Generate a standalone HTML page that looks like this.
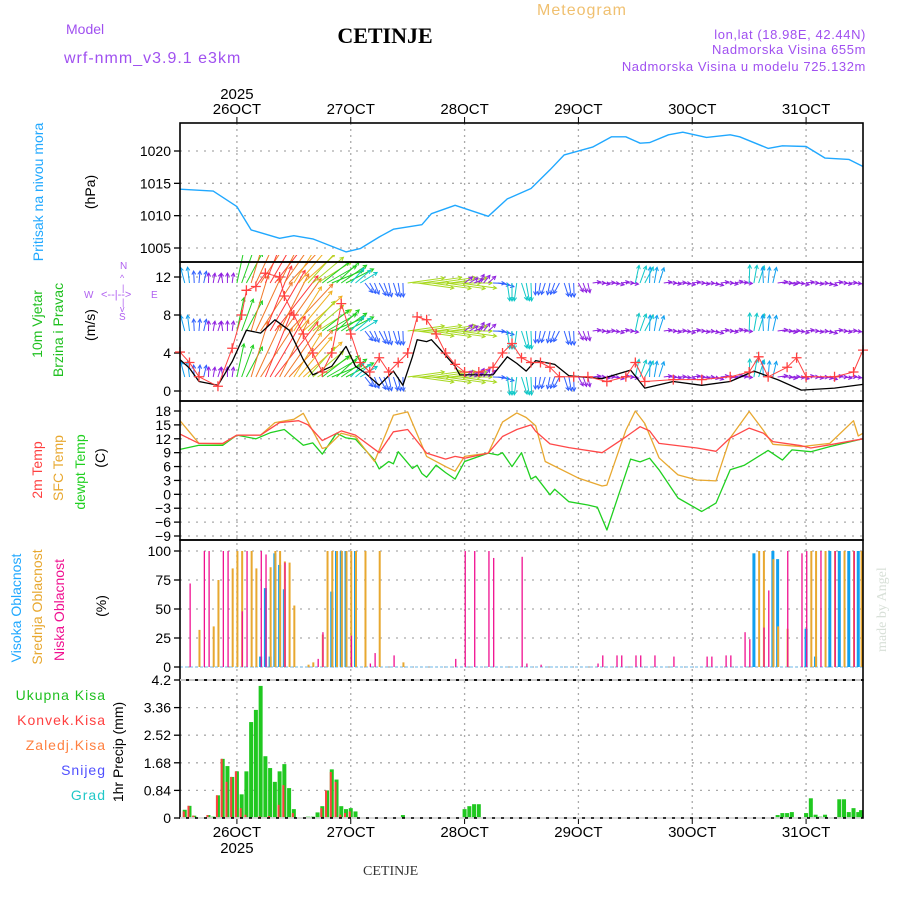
<!DOCTYPE html>
<html><head><meta charset="utf-8"><style>
html,body{margin:0;padding:0;background:#fff;}
svg{display:block;font-family:"Liberation Sans",sans-serif;}
</style></head><body>
<svg id="chart" width="900" height="900" viewBox="0 0 900 900" xmlns="http://www.w3.org/2000/svg">
<g>
<text x="66" y="34" font-size="14" fill="#a050f0">Model</text>
<text x="64" y="63" font-size="16" fill="#a050f0" letter-spacing="1">wrf-nmm_v3.9.1 e3km</text>
<text x="385" y="43" font-size="22" font-weight="bold" font-family="Liberation Serif,serif" text-anchor="middle" fill="#000">CETINJE</text>
<text x="582" y="15" font-size="16" fill="#f0c070" text-anchor="middle" letter-spacing="1">Meteogram</text>
<text x="866" y="39" font-size="13" fill="#a050f0" text-anchor="end" letter-spacing="0.6">lon,lat (18.98E, 42.44N)</text>
<text x="866" y="54" font-size="13" fill="#a050f0" text-anchor="end" letter-spacing="0.6">Nadmorska Visina 655m</text>
<text x="866" y="71" font-size="13" fill="#a050f0" text-anchor="end" letter-spacing="0.6">Nadmorska Visina u modelu 725.132m</text>
<text x="363" y="875" font-size="14" font-family="Liberation Serif,serif" fill="#333">CETINJE</text>
<text transform="translate(886,652) rotate(-90)" font-size="14" font-family="Liberation Serif,serif" fill="#d8e0d8">made by Angel</text>
</g>
<g font-size="14">
<text transform="translate(43,192) rotate(-90)" text-anchor="middle" fill="#20a8ff">Pritisak na nivou mora</text>
<text transform="translate(95,192) rotate(-90)" text-anchor="middle" fill="#000">(hPa)</text>
<text transform="translate(42,324) rotate(-90)" text-anchor="middle" fill="#20c020">10m Vjetar</text>
<text transform="translate(63,330) rotate(-90)" text-anchor="middle" fill="#20c020">Brzina i Pravac</text>
<text transform="translate(95,325) rotate(-90)" text-anchor="middle" fill="#000">(m/s)</text>
<g fill="#b060f0" font-size="10">
<text x="120" y="269">N</text><text x="84" y="298">W</text><text x="151" y="298">E</text><text x="119" y="320">S</text>
<text x="101" y="298" font-size="11">&lt;--|--&gt;</text>
<text x="120" y="281" font-size="9">^</text><text x="122" y="291" font-size="9">|</text><text x="122" y="305" font-size="9">|</text><text x="120" y="312" font-size="9">v</text>
</g>
<text transform="translate(42,470) rotate(-90)" text-anchor="middle" fill="#ff4040">2m Temp</text>
<text transform="translate(63,468) rotate(-90)" text-anchor="middle" fill="#e8a830">SFC Temp</text>
<text transform="translate(85,472) rotate(-90)" text-anchor="middle" fill="#20d020">dewpt Temp</text>
<text transform="translate(105,458) rotate(-90)" text-anchor="middle" fill="#000">(C)</text>
<text transform="translate(21,608) rotate(-90)" text-anchor="middle" fill="#20a8ff">Visoka Oblacnost</text>
<text transform="translate(42,607) rotate(-90)" text-anchor="middle" fill="#e8a830">Srednja Oblacnost</text>
<text transform="translate(64,610) rotate(-90)" text-anchor="middle" fill="#f01090">Niska Oblacnost</text>
<text transform="translate(106,606) rotate(-90)" text-anchor="middle" fill="#000">(%)</text>
<text x="106" y="700" text-anchor="end" fill="#20c020" letter-spacing="1">Ukupna Kisa</text>
<text x="106" y="725" text-anchor="end" fill="#ff4040" letter-spacing="1">Konvek.Kisa</text>
<text x="106" y="750" text-anchor="end" fill="#ff8040" letter-spacing="1">Zaledj.Kisa</text>
<text x="106" y="775" text-anchor="end" fill="#5050ff" letter-spacing="1">Snijeg</text>
<text x="106" y="800" text-anchor="end" fill="#20c8c8" letter-spacing="1">Grad</text>
<text transform="translate(123,752) rotate(-90)" text-anchor="middle" fill="#000">1hr Precip (mm)</text>
</g>
<g id="plot"></g>
</svg>
<script>
// ---- data (t = hours since 25 OCT 12:00) ----
const dayLabels = ["26OCT","27OCT","28OCT","29OCT","30OCT","31OCT"];
const dayHours = [12,36,60,84,108,132];
const presHours = [0,7,12,15,21,24,28,35,38,42,45,51,53,58,65,69,74,78,81,87,91,94,97,99,103,106,111,116,118,124,127,132,136,141,144];
const presVals = [1014.1,1013.8,1011.4,1007.8,1006.5,1006.9,1006.4,1004.4,1004.9,1006.7,1007.9,1008.6,1010.3,1011.6,1009.9,1012.6,1014.2,1017.1,1019.4,1020.6,1022.2,1022.2,1021.2,1021.3,1022.5,1022.9,1022.1,1022.5,1022.2,1020.4,1020.8,1020.7,1018.9,1018.7,1017.6];
const presTicks = [1005,1010,1015,1020];
const t2Hours = [0,4,9,12,17,21,25,27,30,34,37,42,45,48,52,56,58,60,65,68,71,74,75,78,82,89,94,97,99,101,109,113,116,120,123,125,131,133,137,144];
const t2Vals = [13.0,11.0,11.0,12.8,12.8,15.5,15.9,15.0,11.6,13.7,12.8,9.0,13.5,14.0,8.9,7.6,8.2,7.8,8.9,12.5,14.0,15.0,13.6,10.9,10.1,9.0,12.4,14.6,13.7,11.0,10.0,9.3,12.2,14.3,13.2,11.4,10.5,10.0,10.7,12.0];
const sfcHours = [0,4,9,12,17,20,24,26,30,31,34,37,41,45,48,52,56,58,60,65,68,71,73,75,77,84,89,90,94,96,98,101,105,109,113,116,120,123,125,131,137,142,143,144];
const sfcVals = [15.9,11.0,10.9,12.8,12.8,15.5,16.2,17.5,9.9,10.2,13.2,12.4,7.1,17.1,17.8,8.2,6.0,5.0,8.2,8.9,15.6,17.6,16.6,14.8,7.1,3.5,1.8,2.0,13.8,18.0,15.3,7.9,4.2,3.1,2.9,12.2,17.9,13.8,10.8,10.3,11.0,15.9,12.6,13.2];
const dewHours = [0,4,9,12,16,19,22,26,28,30,33,35,37,41,42,44,45,46,49,50,51,52,54,56,58,60,65,67,68,70,72,74,75,78,79,82,86,88,90,95,97,99,101,105,110,113,116,119,124,127,129,133,137,144];
const dewVals = [9.7,10.6,10.6,12.8,12.0,13.3,14.0,10.6,11.1,8.7,13.2,12.2,11.9,7.4,5.5,7.1,6.6,9.2,5.6,6.3,4.5,3.7,6.3,4.7,3.3,7.1,8.9,8.5,9.0,6.0,9.0,3.3,3.9,-0.1,1.1,-1.6,-2.3,-2.8,-7.7,7.6,7.0,7.8,5.3,-0.8,-3.7,-1.9,5.3,6.3,9.5,7.4,9.6,9.2,10.3,12.0];
const tempTicks = [-9,-6,-3,0,3,6,9,12,15,18];
const windHours = [0,2,4,8,11,14,17,20,23,26,28,32,35,37,39,42,45,47,49,50,52,53,55,58,59,66,69,71,73,75,79,82,89,95,98,104,110,116,121,126,131,138,144];
const windVals = [3.3,2.4,1.0,0.6,3.1,6.4,6.1,7.5,6.4,3.3,1.7,2.6,4.7,2.6,1.9,0.6,2.1,0.6,3.6,5.4,5.2,5.4,4.3,2.6,1.7,1.7,3.6,2.9,2.1,3.2,2.8,1.6,1.3,2.2,0.3,1.0,0.6,1.0,2.1,1.2,0.1,0.3,0.7];
const gustHours = [0,2,4,8,11,13,14,16,18,21,22,24,26,28,30,32,34,36,38,40,42,44,46,48,50,52,54,56,58,60,63,66,68,70,72,74,76,78,80,83,86,90,94,96,98,104,110,116,120,122,124,128,130,132,138,142,144];
const gustVals = [4.1,3.0,1.5,0.5,4.5,8.0,10.6,11.0,12.4,12.0,10.0,8.0,6.0,4.0,2.0,4.0,9.2,6.0,3.0,2.0,3.5,2.0,3.0,4.0,7.8,7.5,6.0,4.0,2.8,2.0,2.0,2.5,4.0,5.0,3.5,3.0,3.0,2.5,1.5,1.5,1.5,1.0,1.5,3.0,1.0,1.2,1.2,1.5,2.0,3.6,1.5,2.5,3.5,1.5,1.5,2.0,4.3];
const windTicks = [0,4,8,12];
// 3-hourly wind arrows: direction the arrow points (deg clockwise from north) and speed
const arrowHours = [0,3,6,9,12,15,18,21,24,27,30,33,36,39,42,45,48,51,54,57,60,63,66,69,72,75,78,81,84,87,90,93,96,99,102,105,108,111,114,117,120,123,126,129,132,135,138,141];
const arrowDir = [345,5,10,0,20,25,30,35,40,50,60,55,50,150,160,170,90,90,90,90,60,40,100,180,170,190,200,170,160,90,95,90,20,10,90,95,90,100,90,85,10,5,90,95,90,100,90,95];
const arrowSpd = [3,2,1.5,1.5,5,9,11,10,8,6,5,4.5,4,2,2.5,2.5,5.5,6,6,5.5,1.5,1.5,2,3.5,3.5,2,2,2.5,1.5,1,1,1,3.5,3,1,1,1,1,1,1,3.5,3,1.5,1,1,1,1,1];
const cloudTicks = [0,25,50,75,100];
const lowHours = [2,5,6,9,10,13,14,17,18,22,29,30,36,40,41,45,58,60,62,65,66,72,73,76,88,89,92,93,96,97,100,104,111,112,115,116,119,120,123,124,128,131,132,135,138,142];
const lowVals = [72,100,100,100,100,48,100,100,97,90,7,30,27,3,12,10,7,100,100,100,94,95,3,2,3,10,10,10,10,10,10,9,9,9,10,10,30,24,34,66,100,98,100,100,100,100];
const midHours = [4,7,8,11,12,13,15,16,19,20,21,22,23,24,27,28,30,31,32,33,34,35,36,37,39,42,47,122,123,125,126,128,133,134,136,138,140,142,143.6];
const midVals = [32,35,75,85,100,100,100,85,86,100,100,91,90,53,2,4,28,100,100,100,100,100,100,100,100,100,4,100,100,93,35,33,100,100,100,100,100,100,100];
const highHours = [17,18,19,20,21,22,32,33,34,35,37,121,125,126,132,134,137,139,141,143];
const highVals = [9,68,9,98,88,67,65,100,100,100,100,98,100,93,33,9,100,100,100,100];
const precipTicks = [0,0.84,1.68,2.52,3.36,4.2];
const precipTickLabels = ["0","0.84","1.68","2.52","3.36","4.2"];
const rainHours = [1,2,3,6,7,8,9,10,11,12,13,14,15,16,17,18,19,20,21,22,23,24,27,28,29,30,31,32,33,34,35,36,37,47,60,61,62,63,126,127,128,129,132,133,134,135,136,139,140,141,142,143,143.6];
const rainVals = [0.25,0.37,0.07,0.09,0.04,0.69,1.8,1.58,1.25,1.42,0.72,1.42,2.92,3.29,4.02,1.88,1.52,1.1,1.42,1.64,0.91,0.27,0.04,0.04,0.17,0.36,0.84,1.48,1.17,0.36,0.27,0.3,0.2,0.09,0.27,0.36,0.42,0.42,0.09,0.15,0.15,0.18,0.15,0.6,0.1,0.04,0.1,0.57,0.57,0.18,0.3,0.18,0.24];
const convHours = [1,2,3,6,8,9,10,11,12,13,14,17,18,19,21,22,24,30,31,32,33,34,35,36];
const convVals = [0.2,0.37,0.07,0.09,0.69,1.8,1.1,1.25,1.42,0.3,0.1,0.05,0.03,0.06,0.4,1.0,0.15,0.3,0.84,1.4,1.1,0.1,0.15,0.2];

// ---- geometry ----
const L=180,R=863,T0=0,T1=144;
const X=t=>L+(t-T0)*(R-L)/(T1-T0);
const panels={pres:[123,262],wind:[262,401],temp:[401,540],cloud:[540,680],prec:[680,818]};
const Yp=v=>151+(1020-v)*(248-151)/15;
const Yw=v=>391-v*(391-277)/12;
const Yt=v=>411+(18-v)*(536-411)/27;
const Yc=v=>667-v*(667-551)/100;
const Yr=v=>818-v*(818-680)/4.2;
const NS="http://www.w3.org/2000/svg";
const plot=document.getElementById('plot');
function mk(tag,attrs,parent){const e=document.createElementNS(NS,tag);for(const k in attrs)e.setAttribute(k,attrs[k]);(parent||plot).appendChild(e);return e;}
function grp(name){const g=mk('g',{});return g;}

const defs=mk('defs',{});
const cp=mk('clipPath',{id:'cw'},defs);mk('rect',{x:L,y:255,width:R-L,height:146},cp);

// grids
const grid=grp('grid-lines');
for(const h of dayHours){mk('line',{x1:X(h),x2:X(h),y1:123,y2:818,stroke:'#aaa','stroke-width':1.3,'stroke-dasharray':'2,4'},grid);}
function hgrid(vals,fy){for(const v of vals){mk('line',{x1:L,x2:R,y1:fy(v),y2:fy(v),stroke:'#aaa','stroke-width':1.3,'stroke-dasharray':'2,6'},grid);}}
hgrid(presTicks,Yp);hgrid(windTicks,Yw);hgrid(tempTicks,Yt);hgrid(cloudTicks,Yc);hgrid(precipTicks.slice(1,5),Yr);

function yticks(name,vals,labels,fy){const g=grp(name);vals.forEach((v,i)=>{const y=fy(v);mk('line',{x1:174,x2:L,y1:y,y2:y,stroke:'#000','stroke-width':1.3},g);const t=mk('text',{x:171,y:y+5,'font-size':14,'text-anchor':'end',fill:'#000'},g);t.textContent=labels?labels[i]:String(v).replace('-','\u2212');});}
yticks('pressure-y-ticks',presTicks,null,Yp);
yticks('wind-y-ticks',windTicks,null,Yw);
yticks('temp-y-ticks',tempTicks,null,Yt);
yticks('cloud-y-ticks',cloudTicks,null,Yc);
yticks('precip-y-ticks',precipTicks,precipTickLabels,Yr);
const xt=grp('x-axis-labels');
dayLabels.forEach((d,i)=>{const x=X(dayHours[i]);
 let t=mk('text',{x:x,y:114,'font-size':15,'text-anchor':'middle',fill:'#000'},xt);t.textContent=d;
 t=mk('text',{x:x,y:837,'font-size':15,'text-anchor':'middle',fill:'#000'},xt);t.textContent=d;
 mk('line',{x1:x,x2:x,y1:117,y2:123,stroke:'#000'},xt);mk('line',{x1:x,x2:x,y1:818,y2:824,stroke:'#000'},xt);});
let yt=mk('text',{x:X(12),y:99,'font-size':15,'text-anchor':'middle',fill:'#000'},xt);yt.textContent='2025';
yt=mk('text',{x:X(12),y:853,'font-size':15,'text-anchor':'middle',fill:'#000'},xt);yt.textContent='2025';

function line(name,hs,vs,fy,color,w){const pts=hs.map((h,i)=>X(h).toFixed(1)+','+fy(vs[i]).toFixed(1)).join(' ');const p=mk('polyline',{points:pts,fill:'none',stroke:color,'stroke-width':w||1.3,'stroke-linejoin':'round'});return p;}

line('pressure-line',presHours,presVals,Yp,'#20a8ff',1.4);

// wind arrows
const wg=grp('wind-arrows');wg.setAttribute('clip-path','url(#cw)');
function spdColor(s){if(s<1.8)return'#9020e0';if(s<2.7)return'#3060ff';if(s<3.3)return'#10a0f0';if(s<4.2)return'#10c8c8';if(s<5.2)return'#20d020';if(s<6.5)return'#a8d820';if(s<8.5)return'#f0b020';if(s<10.5)return'#f07828';return'#ff3838';}
const rows=[283,331,377];
arrowHours.forEach((h,i)=>{const s=arrowSpd[i];const col=spdColor(s);
 for(const ry of rows){for(let k=0;k<3;k++){
  const x0=X(h)+k*4.74;const a=(arrowDir[i]+(k-1)*8)*Math.PI/180;const len=4+s*(s>4?6:4);
  const x1=x0+Math.sin(a)*len,y1=ry-Math.cos(a)*len;
  const g=mk('g',{stroke:col,'stroke-width':1,fill:'none'},wg);
  
  
  mk('line',{x1:x0,y1:ry,x2:x1,y2:y1},g);
  const b1=a+Math.PI-0.5,b2=a+Math.PI+0.5;
  mk('polyline',{points:`${x1+Math.sin(b1)*4},${y1-Math.cos(b1)*4} ${x1},${y1} ${x1+Math.sin(b2)*4},${y1-Math.cos(b2)*4}`},g);
 }}});
line('wind-speed-line',windHours,windVals,Yw,'#000',1.3);
line('gust-line',gustHours,gustVals,Yw,'#ff4040',1);
const gm=grp('gust-markers');
gustHours.forEach((h,i)=>{const x=X(h),y=Yw(gustVals[i]);const p=mk('path',{d:`M${x-5},${y}H${x+5}M${x},${y-5}V${y+5}`,stroke:'#ff4040','stroke-width':1.3},gm);});

// temperatures
line('dewpoint-line',dewHours,dewVals,Yt,'#20d020',1.3);
line('sfc-temp-line',sfcHours,sfcVals,Yt,'#e8a830',1.3);
line('temp-2m-line',t2Hours,t2Vals,Yt,'#ff4848',1.3);

// clouds
const cg=grp('cloud-bars');
mk('line',{x1:L,x2:R,y1:667,y2:667,stroke:'#9fd0f0','stroke-width':1.5,'stroke-dasharray':'3,2'},cg);
function bars(hs,vs,color,w,off,name){hs.forEach((h,i)=>{const y=Yc(vs[i]);const r=mk('rect',{x:X(h)+off,y:y,width:w,height:667-y,fill:color},cg);});}
bars(highHours,highVals,'#10a0f0',3,-1.5,'cloud-high-bar');
bars(midHours,midVals,'#e8a830',2,-0.5,'cloud-mid-bar');
bars(lowHours,lowVals,'#f01090',1.3,0,'cloud-low-bar');

// precip
const pg=grp('precip-bars');
rainHours.forEach((h,i)=>{const y=Yr(rainVals[i]);const r=mk('rect',{x:X(h)-2,y:y,width:4,height:818-y,fill:'#20c820'},pg);});
convHours.forEach((h,i)=>{const y=Yr(convVals[i]);const r=mk('rect',{x:X(h)-2,y:y,width:2,height:818-y,fill:'#ff4040'},pg);});

// frames
const fr=grp('panel-frames');
for(const k in panels){const [a,b]=panels[k];mk('rect',{x:L,y:a,width:R-L,height:b-a,fill:'none',stroke:'#000','stroke-width':1.6},fr);}
mk('line',{x1:L,x2:R,y1:680,y2:680,stroke:'#fff','stroke-width':1.6,'stroke-dasharray':'6,3'},fr);
mk('line',{x1:L,x2:R,y1:818,y2:818,stroke:'#fff','stroke-width':1.6,'stroke-dasharray':'6,3'},fr);
</script>
</body></html>
